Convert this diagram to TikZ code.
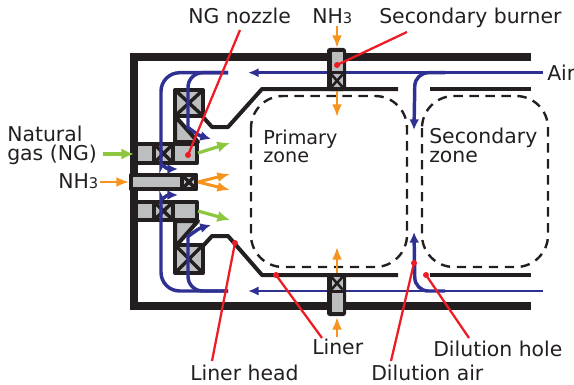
\documentclass[tikz,border=0pt]{standalone}
\usepackage{fontspec}
\setmainfont{DejaVu Sans}
\usetikzlibrary{arrows.meta}
\definecolor{wallk}{HTML}{231F20}
\definecolor{cellg}{HTML}{BCBEC0}
\definecolor{airb}{HTML}{2E3192}
\definecolor{ngg}{HTML}{8DC63F}
\definecolor{ammo}{HTML}{F7941D}
\definecolor{leadr}{HTML}{ED1C24}
\tikzset{
  x=0.75pt,y=-0.75pt,
  wall/.style={draw=wallk,line width=6pt,line cap=butt,line join=miter},
  linerline/.style={draw=wallk,line width=3pt,line join=round},
  cell/.style={draw=wallk,fill=cellg,line width=3pt,line join=round},
  cross/.style={draw=wallk,line width=2.6pt},
  zone/.style={draw=wallk,line width=1.8pt,dash pattern=on 7pt off 5pt,rounded corners=24pt},
  air/.style={draw=airb,line width=2pt,-{Latex[length=8pt,width=7pt]},rounded corners=10pt},
  airbold/.style={air,line width=2.6pt,-{Latex[length=8pt,width=7.5pt]}},
  ngflow/.style={draw=ngg,line width=2.4pt,-{Latex[length=9.5pt,width=8.5pt]}},
  nhflow/.style={draw=ammo,line width=2.2pt,-{Latex[length=9.5pt,width=7.5pt]}},
  leader/.style={draw=leadr,line width=1.7pt},
  dotmark/.style={circle,fill=leadr,inner sep=0pt,minimum size=4.5pt},
  lab/.style={font=\fontsize{15.3}{18}\selectfont,inner sep=0pt,anchor=base west,text=wallk},
  labtwo/.style={inner sep=0pt,anchor=north west,text=wallk,align=left},
}
\newcommand{\xcell}[4]{%
  \draw[cell] (#1,#2) rectangle (#3,#4);
  \draw[cross] (#1,#2) -- (#3,#4) (#1,#4) -- (#3,#2);}
\newcommand{\subthree}{{\fontsize{11}{12}\selectfont 3}}
\begin{document}
\begin{tikzpicture}
\useasboundingbox (0,0) rectangle (574,385);
% zones
\draw[zone] (251,96) rectangle (407,267);
\draw[zone] (422,96) rectangle (548,267);
% walls
\draw[wall] (531,57) -- (134,57) -- (134,306) -- (531,306);
% liner
\draw[linerline] (398,89) -- (262,89) -- (228,127) -- (212,127) -- (203,117);
\draw[linerline] (398,275) -- (262,275) -- (228,236) -- (212,236) -- (203,246);
\draw[linerline] (430,89) -- (531,89);
\draw[linerline] (430,275) -- (531,275);
% swirler supports
\draw[cell] (175,116) -- (198,142) -- (175,142) -- cycle;
\draw[cell] (175,247) -- (198,221) -- (175,221) -- cycle;
% swirler blocks
\xcell{175}{90}{203}{116}
\xcell{175}{245}{203}{273}
% NG blocks
\draw[cell] (136,144) rectangle (197,163);
\draw[cell] (136,202) rectangle (197,220);
\xcell{154}{144}{173}{163}
\xcell{154}{202}{173}{220}
% central tube
\draw[cell] (131,175) rectangle (196,189);
\xcell{182}{175}{196}{189}
% air
\coordinate (airR1) at (543,72.7);
\coordinate (airL1) at (248,72.7);
\coordinate (airR2) at (543,291);
\coordinate (airL2) at (248,291);
\draw[air] (airR1) -- (airL1);
\draw[air] (airR2) -- (airL2);
\draw[airbold,rounded corners=14pt] (228,72.7) -- (161,72.7) -- (161,148) .. controls (161,162) and (166,169) .. (178,169);
\draw[airbold,rounded corners=14pt] (228,291) -- (161,291) -- (161,216) .. controls (161,202) and (166,195) .. (178,195);
\draw[airbold,rounded corners=11pt] (228,72.7) -- (188,72.7) -- (188,113) .. controls (188,127) and (197,135) .. (211,139);
\draw[airbold,rounded corners=11pt] (228,291) -- (188,291) -- (188,251) .. controls (188,237) and (197,229) .. (211,225);
\draw[airbold] (445,72.7) -- (415,72.7) -- (414,130);
\draw[airbold] (445,291) -- (415,291) -- (414,232);
% burners
\fill[wallk,rounded corners=2pt] (327,48) rectangle (346,91);
\fill[wallk,rounded corners=2pt] (327,273) rectangle (346,316);
\fill[cellg] (331.5,52) rectangle (342.5,71);
\fill[cellg] (331.5,74.5) rectangle (342.5,87);
\draw[wallk,line width=1.9pt] (331.5,74.5) -- (342.5,87) (331.5,87) -- (342.5,74.5);
\fill[cellg] (331.5,293) rectangle (342.5,312);
\fill[cellg] (331.5,277) rectangle (342.5,289.5);
\draw[wallk,line width=1.9pt] (331.5,277) -- (342.5,289.5) (331.5,289.5) -- (342.5,277);
% NG flows
\coordinate (ngL) at (103,154);
\coordinate (ngLt) at (134,154);
\draw[ngflow] (ngL) -- (ngLt);
\draw[ngflow] (198,153) -- (230,143);
\draw[ngflow] (198,211) -- (230,220);
% NH3 flows
\draw[nhflow] (100,182) -- (129,182);
\draw[nhflow] (198,182) -- (230,174);
\draw[nhflow] (198,182) -- (230,190);
\draw[nhflow] (337,26) -- (337,48);
\draw[nhflow] (337,91) -- (337,117);
\draw[nhflow] (337,273) -- (337,247);
\draw[nhflow] (337,337) -- (337,317);
% labels
\node[lab] (lngn) at (188,24) {NG nozzle};
\node[lab] (lnh) at (312,24) {NH\subthree};
\node[lab] (lsb) at (379,24) {Secondary burner};
\node[lab] (lair) at (547,80) {Air};
\node[labtwo,font=\fontsize{15.3}{14.25}\selectfont] (lng) at (7,126) {Natural\\gas (NG)};
\node[lab] (lnh2) at (58,188) {NH\subthree};
\node[labtwo,font=\fontsize{14.4}{13.5}\selectfont] (lpz) at (263,130) {Primary\\zone};
\node[labtwo,font=\fontsize{15.3}{14.25}\selectfont] (lsz) at (429,128) {Secondary\\zone};
\node[lab] (llh) at (190,380) {Liner head};
\node[lab] (ll) at (312,354) {Liner};
\node[lab] (lda) at (371,380) {Dilution air};
\node[lab] (ldh) at (433,356) {Dilution hole};
% leaders
\coordinate (p1s) at (240,30);
\coordinate (p1) at (188,155);
\draw[leader] (p1s) -- (p1);
\node[dotmark] (d1) at (p1) {};
\coordinate (p2s) at (407,32);
\coordinate (p2) at (337,65);
\draw[leader] (p2s) -- (p2);
\node[dotmark] (d2) at (p2) {};
\coordinate (p3s) at (212,361);
\coordinate (p3) at (235,243);
\draw[leader] (p3s) -- (p3);
\node[dotmark] (d3) at (p3) {};
\coordinate (p4s) at (322,338);
\coordinate (p4) at (276,275);
\draw[leader] (p4s) -- (p4);
\node[dotmark] (d4) at (p4) {};
\coordinate (p5s) at (391,361);
\coordinate (p5) at (414,263);
\draw[leader] (p5s) -- (p5);
\node[dotmark] (d5) at (p5) {};
\coordinate (p6s) at (469,338);
\coordinate (p6) at (426,275);
\draw[leader] (p6s) -- (p6);
\node[dotmark] (d6) at (p6) {};
\end{tikzpicture}
\end{document}
